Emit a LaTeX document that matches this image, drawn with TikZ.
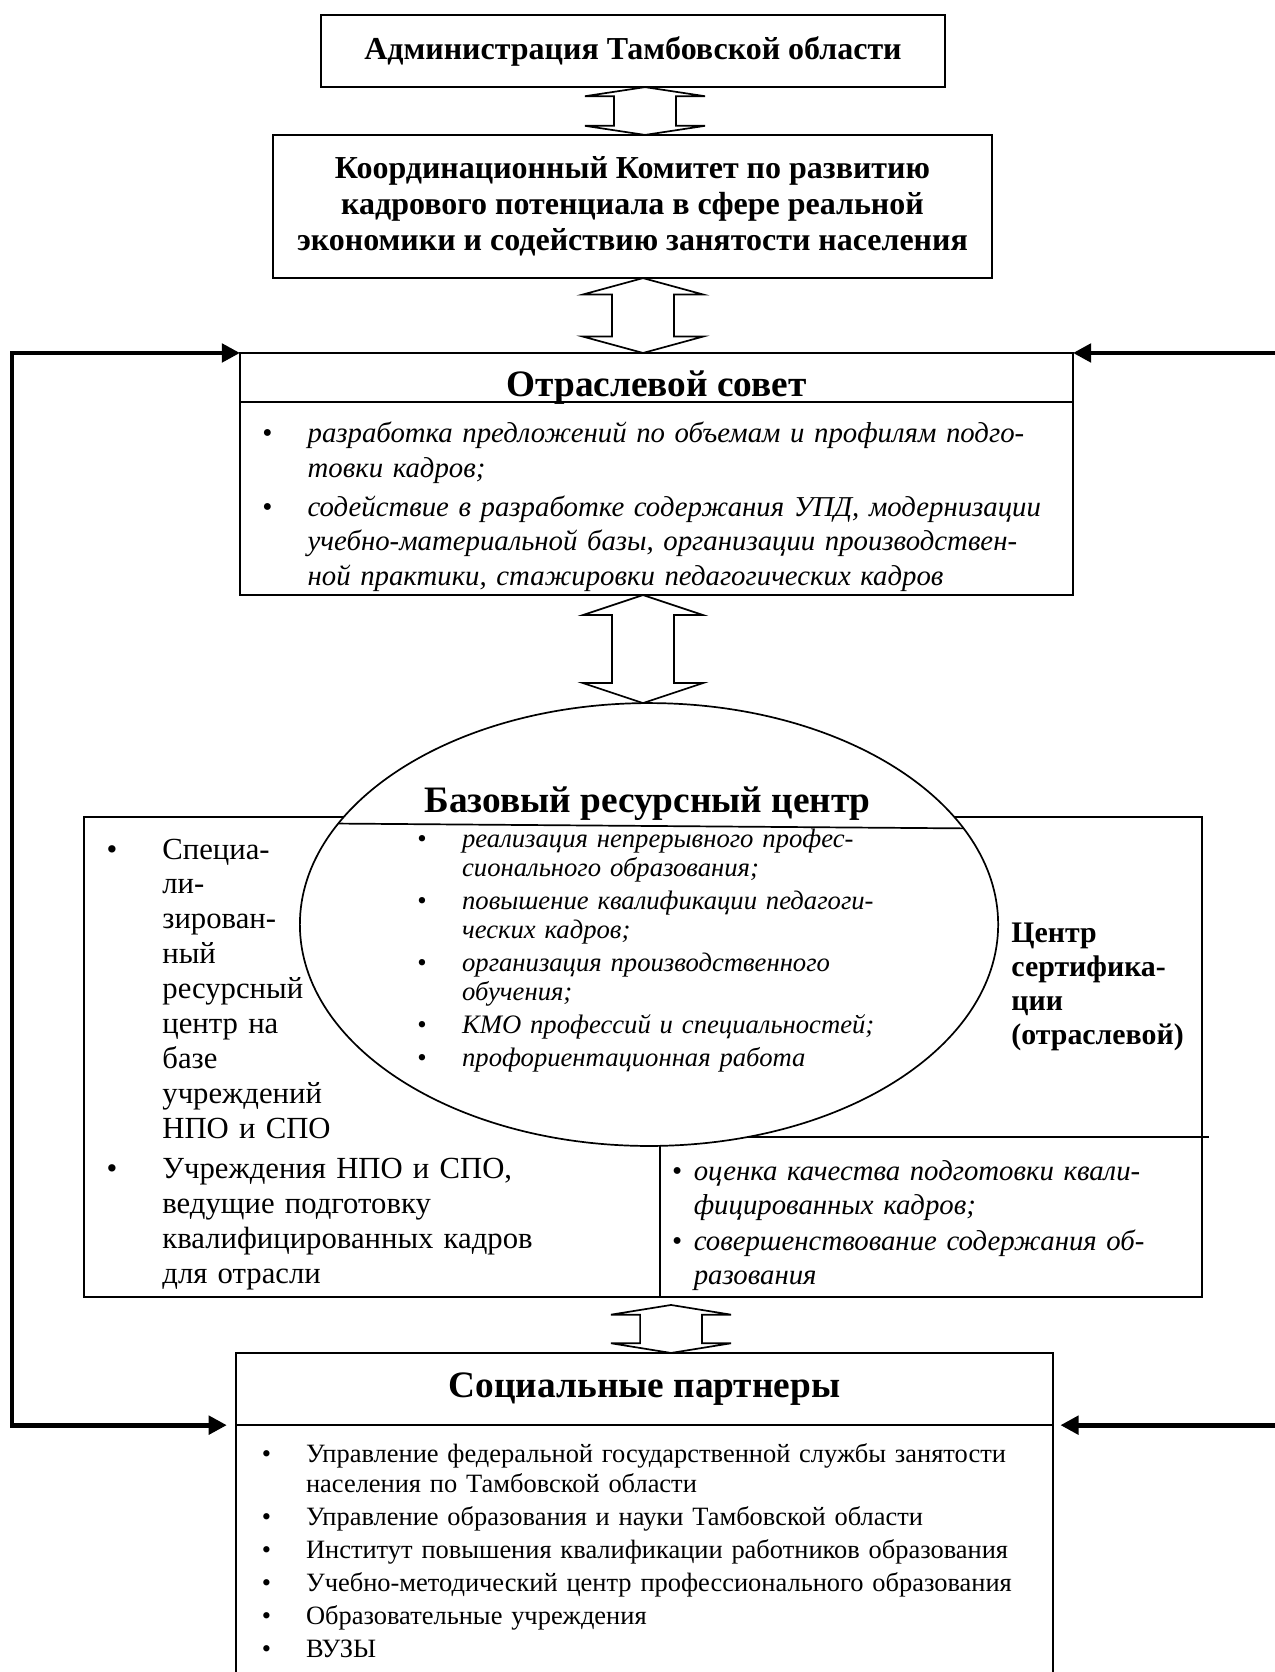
\documentclass[tikz,border=0pt]{standalone}
\usepackage{fontspec}
\setmainfont{Liberation Serif}
\usetikzlibrary{calc,positioning,arrows.meta,shapes.geometric}

% bullet item with hanging indent
\newcommand{\itm}[2]{\hangindent=#1\hangafter=1\makebox[#1][l]{\textbullet}#2\par}
% hollow double arrow between two tips
\newcommand{\twoway}[3]{%
  \draw[twoway] let \p1=(#1), \p2=(#2) in
    (\x1,\y1) -- (\x1+0.99cm,\y1-#3) -- (\x1+0.51cm,\y1-#3)
    -- (\x1+0.51cm,\y2+#3) -- (\x1+0.99cm,\y2+#3) -- (\x1,\y2)
    -- (\x1-0.99cm,\y2+#3) -- (\x1-0.51cm,\y2+#3)
    -- (\x1-0.51cm,\y1-#3) -- (\x1-0.99cm,\y1-#3) -- cycle;}

\tikzset{
       box/.style = {draw, thick, outer sep=0pt, inner sep=0pt},
    twoway/.style = {thick, line join=miter},
      back/.style = {line width=2.3pt, >={Triangle[length=8.5pt,width=8.5pt]}, ->},
     title/.style = {font=\fontsize{15}{16.9}\selectfont\bfseries, align=center},
       big/.style = {font=\fontsize{17.5}{19}\selectfont\bfseries},
       lst/.style = {anchor=base west, align=left, text width=#1, inner sep=0pt},
       gap/.style = {execute at begin node={\setlength{\parskip}{#1}}},
}

\begin{document}
\begin{tikzpicture}
\useasboundingbox (0,0) rectangle (21,-27.56);
% boxes
\node[box, title, minimum width=10.29cm, minimum height=1.19cm] (adm) at (10.434,-0.841)
  {Администрация Тамбовской области};
\node[box, title, minimum width=11.85cm, minimum height=2.36cm] (kom) at (10.426,-3.404)
  {Координационный Комитет по развитию\\кадрового потенциала в сфере реальной\\экономики и содействию занятости населения};
\node[box, big, minimum width=13.73cm, minimum height=0.81cm, text height=17.4pt, text depth=0pt] (otsH) at (10.821,-6.223)
  {Отраслевой совет};
\node[box, minimum width=13.73cm, minimum height=3.18cm, below=0pt of otsH] (otsB) {};
\node[box, minimum width=18.43cm, minimum height=7.91cm] (res) at (10.599,-17.423) {};
\node[box, big, minimum width=13.47cm, minimum height=1.19cm] (socH) at (10.624,-22.896)
  {Социальные партнеры};
\node[box, minimum width=13.47cm, minimum height=5cm, below=0pt of socH] (socB) {};

% inner lines of the resource block
\coordinate (dv) at (10.879,0);
\coordinate (cut) at (19.929,-18.742);
\draw[thick] (res.south -| dv) -- (dv |- res.center);
\draw[thick] (cut -| res.center) -- (cut);

% ellipse
\node[draw, thick, ellipse, fill=white, outer sep=0pt, inner sep=0pt,
      minimum width=11.51cm, minimum height=7.30cm] (bas) at (10.698,-15.239) {};
\draw[thick] (bas.162.5) -- (bas.17.5);
\node[big, anchor=base] (basT) at (10.673,-13.385) {Базовый ресурсный центр};

% texts
\node[lst=13cm, gap=2.4pt, font=\fontsize{13.5}{16.1}\selectfont\itshape] (otsL) at (4.314,-7.297) {%
\itm{0.75cm}{разработка предложений по объемам и профилям подго-\newline товки кадров;}
\itm{0.75cm}{содействие в разработке содержания УПД, модернизации\newline учебно-материальной базы, организации производствен-\newline ной практики, стажировки педагогических кадров}};

\node[lst=8.5cm, gap=1.6pt, font=\fontsize{12.5}{13.8}\selectfont\itshape] (basL) at (6.87,-13.962) {%
\itm{0.74cm}{реализация непрерывного профес-\newline сионального образования;}
\itm{0.74cm}{повышение квалификации педагоги-\newline ческих кадров;}
\itm{0.74cm}{организация производственного\newline обучения;}
\itm{0.74cm}{КМО профессий и специальностей;}
\itm{0.74cm}{профориентационная работа}};

\node[lst=8.5cm, gap=2.3pt, font=\fontsize{14.4}{16.4}\selectfont] (left) at (1.75,-14.159) {%
\itm{0.92cm}{Специа-\newline ли-\newline зирован-\newline ный\newline ресурсный\newline центр на\newline базе\newline учреждений\newline НПО и СПО}
\itm{0.92cm}{Учреждения НПО и СПО,\newline ведущие подготовку\newline квалифицированных кадров\newline для отрасли}};

\node[lst=3.5cm, font=\fontsize{14}{16}\selectfont\bfseries] (cert) at (16.665,-15.527)
  {Центр\\сертифика-\\ции\\(отраслевой)};

\node[lst=8.5cm, gap=1pt, font=\fontsize{13.5}{16}\selectfont\itshape] (rb) at (11.069,-19.451) {%
\itm{0.36cm}{оценка качества подготовки квали-\newline фицированных кадров;}
\itm{0.36cm}{совершенствование содержания об-\newline разования}};

\node[lst=13cm, gap=1.4pt, font=\fontsize{12.4}{14.1}\selectfont] (socL) at (4.308,-24.099) {%
\itm{0.73cm}{Управление федеральной государственной службы занятости\newline населения по Тамбовской области}
\itm{0.73cm}{Управление образования и науки Тамбовской области}
\itm{0.73cm}{Институт повышения квалификации работников образования}
\itm{0.73cm}{Учебно-методический центр профессионального образования}
\itm{0.73cm}{Образовательные учреждения}
\itm{0.73cm}{ВУЗЫ}};

% double arrows
\coordinate (ax1) at (10.632,0);
\coordinate (ax) at (10.599,0);
\coordinate (a4) at (11.061,-21.51);
\twoway{adm.south -| ax1}{kom.north -| ax1}{0.15cm}
\twoway{kom.south -| ax}{otsH.north -| ax}{0.27cm}
\twoway{otsB.south -| ax}{bas.north -| ax}{0.33cm}
\twoway{a4}{socH.north -| a4}{0.16cm}

% feedback arrows
\coordinate (lft) at (0.198,0);
\coordinate (rgt) at (21.3,0);
\draw[back, <->, shorten >=0.15cm] (otsH.north west) -| (lft |- socH.south) -- (socH.south west);
\draw[back] (otsH.north east -| rgt) -- (otsH.north east);
\draw[back, shorten >=0.12cm] (socH.south east -| rgt) -- (socH.south east);
\end{tikzpicture}
\end{document}
